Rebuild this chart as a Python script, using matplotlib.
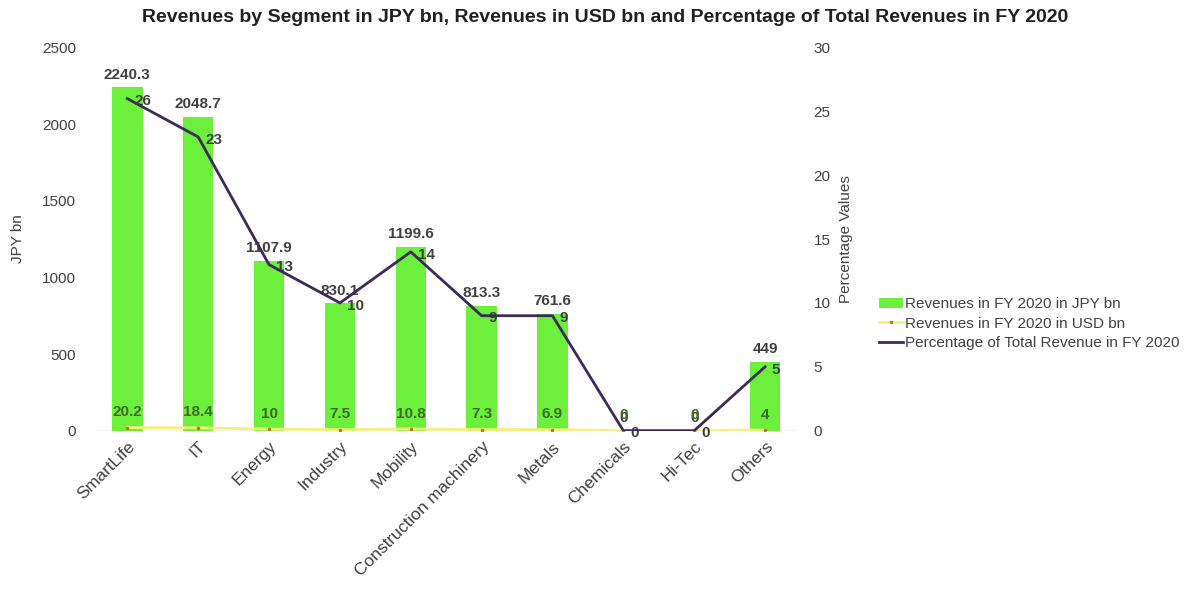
import matplotlib.pyplot as plt
import numpy as np

segments = ['SmartLife', 'IT', 'Energy', 'Industry', 'Mobility',
            'Construction machinery', 'Metals', 'Chemicals', 'Hi-Tec', 'Others']
rev_jpy = [2240.3, 2048.7, 1107.9, 830.1, 1199.6, 813.3, 761.6, 0, 0, 449]
rev_usd = [20.2, 18.4, 10, 7.5, 10.8, 7.3, 6.9, 0, 0, 4]
pct_total = [26, 23, 13, 10, 14, 9, 9, 0, 0, 5]

plt.rcParams['font.family'] = ['Liberation Sans', 'DejaVu Sans']
txt = '#404040'

fig = plt.figure(figsize=(11.93, 5.94), dpi=100)
ax = fig.add_axes([0.080, 0.275, 0.588, 0.645])
ax2 = ax.twinx()

x = np.arange(len(segments))
bars = ax.bar(x, rev_jpy, width=0.43, color='#6cf03c', zorder=2,
              label='Revenues in FY 2020 in JPY bn')
usd_line, = ax.plot(x, rev_usd, color='#f5f07a', lw=2, marker='.', ms=3,
                    mfc='#c07020', mec='#c07020', zorder=3,
                    label='Revenues in FY 2020 in USD bn')
pct_line, = ax2.plot(x, pct_total, color='#3b2a5a', lw=2, zorder=4,
                     label='Percentage of Total Revenue in FY 2020')

for xi, v in zip(x, rev_jpy):
    ax.annotate(f'{v:g}', (xi, v), xytext=(0, 4), textcoords='offset points',
                ha='center', va='bottom', fontsize=11, fontweight='bold', color=txt)
for xi, v in zip(x, rev_usd):
    ax.annotate(f'{v:g}', (xi, v), xytext=(0, 6), textcoords='offset points',
                ha='center', va='bottom', fontsize=11, fontweight='bold', color='#3d6b25')
for xi, v in zip(x, pct_total):
    ax2.annotate(f'{v:g}', (xi, v), xytext=(5, -2), textcoords='offset points',
                 ha='left', va='center', fontsize=11, fontweight='bold', color=txt)

ax.set_xlim(-0.45, 9.45)
ax.set_ylim(0, 2500)
ax2.set_ylim(0, 30)
ax.set_yticks(range(0, 2501, 500))
ax2.set_yticks(range(0, 31, 5))
ax.set_xticks(x)
ax.set_xticklabels(segments, rotation=45, ha='right', rotation_mode='anchor',
                   fontsize=12.5, color=txt)
ax.tick_params(axis='y', length=0, pad=14, labelsize=11, labelcolor=txt)
ax2.tick_params(axis='y', length=0, pad=12, labelsize=11, labelcolor=txt)
ax.tick_params(axis='x', length=0, pad=6)
for a in (ax, ax2):
    for s in a.spines.values():
        s.set_visible(False)
ax.axhline(0, color='#c8c8c8', lw=1, zorder=1)

ax.set_ylabel('JPY bn', fontsize=11, color=txt, labelpad=12)
ax2.set_ylabel('Percentage Values', fontsize=11, color=txt, labelpad=6)

fig.suptitle('Revenues by Segment in JPY bn, Revenues in USD bn and Percentage of Total Revenues in FY 2020',
             x=0.507, y=0.985, fontsize=14, fontweight='bold', color='#202020')

fig.legend(handles=[bars, usd_line, pct_line], loc='center left',
           bbox_to_anchor=(0.725, 0.455), frameon=False, fontsize=11,
           labelcolor=txt, handlelength=1.6, handletextpad=0.1, labelspacing=0.35)

fig.savefig('out.png', dpi=100)
